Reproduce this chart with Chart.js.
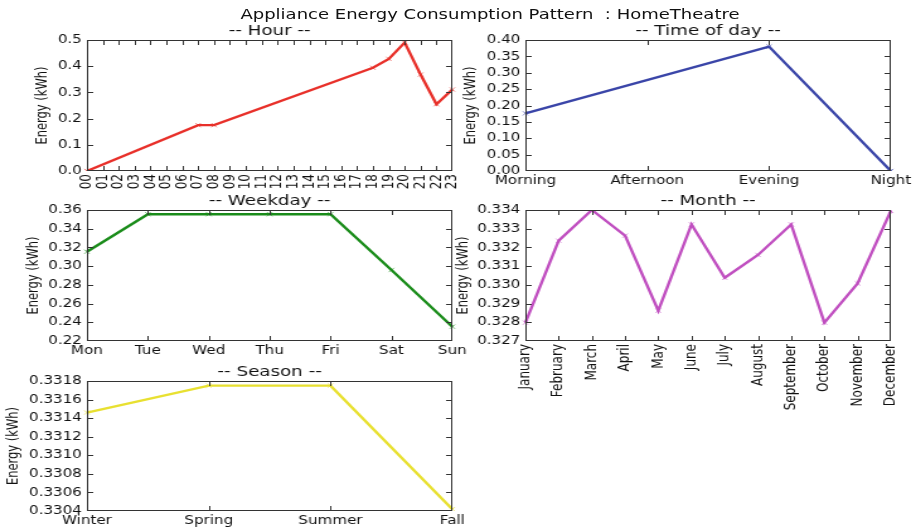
<!DOCTYPE html>
<html>
<head>
<meta charset="utf-8">
<script src="https://cdn.jsdelivr.net/npm/chart.js@4.4.0/dist/chart.umd.min.js"></script>
<style>
  html, body { margin: 0; padding: 0; background: #fff; overflow: hidden; width: 919px; height: 531px; }
  #stage { position: absolute; left: 0; top: 0; height: 531px; transform-origin: 0 0; }
  #stage canvas { position: absolute; }
  #mainTitle { position: absolute; top: 6px; white-space: pre; font: 14.3px 'DejaVu Sans'; line-height: 16px; color: #111; transform: translateX(-50%); }
</style>
</head>
<body>
<div id="stage">
  <div id="mainTitle">Appliance Energy Consumption Pattern  : HomeTheatre</div>
</div>
<script>
// ---- data ----
const hourLabels = ['00','01','02','03','04','05','06','07','08','09','10','11',
                    '12','13','14','15','16','17','18','19','20','21','22','23'];
const hourValues = [0.0, null, null, null, null, null, null, 0.175, 0.175, null, null, null,
                    null, null, null, null, null, null, 0.394, 0.428, 0.490, 0.368, 0.255, 0.311];
const hourYTicks = ['0.0','0.1','0.2','0.3','0.4','0.5'];

const todLabels = ['Morning','Afternoon','Evening','Night'];
const todValues = [0.176, null, 0.380, 0.0];
const todYTicks = ['0.00','0.05','0.10','0.15','0.20','0.25','0.30','0.35','0.40'];

const weekdayLabels = ['Mon','Tue','Wed','Thu','Fri','Sat','Sun'];
const weekdayValues = [0.3154, 0.3555, 0.3555, 0.3555, 0.3555, 0.2959, 0.2353];
const weekdayYTicks = ['0.22','0.24','0.26','0.28','0.30','0.32','0.34','0.36'];

const monthLabels = ['January','February','March','April','May','June','July',
                     'August','September','October','November','December'];
const monthValues = [0.32798, 0.33236, 0.33400, 0.33263, 0.32862, 0.33323, 0.33038,
                     0.33160, 0.33323, 0.32798, 0.33008, 0.33395];
const monthYTicks = ['0.327','0.328','0.329','0.330','0.331','0.332','0.333','0.334'];

const seasonLabels = ['Winter','Spring','Summer','Fall'];
const seasonValues = [0.33146, 0.33175, 0.33175, 0.33042];
const seasonYTicks = ['0.3304','0.3306','0.3308','0.3310','0.3312','0.3314','0.3316','0.3318'];

// ---- layout ----
const SX = 1.26;                 // horizontal stretch of the whole figure
const W = 919, H = 531;
const stage = document.getElementById('stage');
stage.style.width = (W / SX) + 'px';
stage.style.transform = 'scaleX(' + SX + ')';
const mainTitle = document.getElementById('mainTitle');
mainTitle.style.left = (490 / SX) + 'px';

const FONT = 'DejaVu Sans';
const TEXT = '#111';
const AXIS = '#333';
const TITLE_BOX = 30;

// frame around the plot area with inward tick marks on all four sides
const framePlugin = {
  id: 'frame',
  afterDraw(chart) {
    const { ctx, chartArea: a, scales: { x, y } } = chart;
    ctx.save();
    ctx.fillStyle = AXIS;
    const L = Math.round(a.left), R = Math.round(a.right) - 1;
    const T = Math.round(a.top), B = Math.round(a.bottom) - 1;
    ctx.fillRect(L, T, R - L + 1, 1);
    ctx.fillRect(L, B, R - L + 1, 1);
    ctx.fillRect(L, T, 1, B - T + 1);
    ctx.fillRect(R, T, 1, B - T + 1);
    x.ticks.forEach((t, i) => {
      const p = Math.round(x.getPixelForTick(i));
      const q = Math.min(Math.max(p, L), R);
      ctx.fillRect(q, B - 4, 1, 4);
      ctx.fillRect(q, T + 1, 1, 4);
    });
    y.ticks.forEach((t, i) => {
      const p = Math.min(Math.max(Math.round(y.getPixelForTick(i)), T), B);
      ctx.fillRect(L + 1, p, 4, 1);
      ctx.fillRect(R - 4, p, 4, 1);
    });
    ctx.restore();
  }
};

function makePanel(cfg) {
  const plotL = cfg.plot[0] / SX, plotR = cfg.plot[1] / SX;
  const plotT = cfg.plot[2], plotB = cfg.plot[3];
  const axisW = cfg.axisW, padR = cfg.padR;
  const left = plotL - axisW;
  const width = Math.round(plotR - plotL) + axisW + padR;
  const height = Math.round(plotB - plotT) + TITLE_BOX + cfg.xH;
  const canvas = document.createElement('canvas');
  canvas.width = width; canvas.height = height;
  canvas.style.left = left + 'px';
  canvas.style.top = (plotT - TITLE_BOX) + 'px';
  canvas.style.width = width + 'px';
  canvas.style.height = height + 'px';
  stage.appendChild(canvas);

  const yFont = 11.5, yLH = yFont * 1.2;
  const yTitlePad = cfg.ylabelX / SX - left - yLH / 2;
  const yTicks = cfg.yTicks;

  new Chart(canvas, {
    type: 'line',
    data: {
      labels: cfg.labels,
      datasets: [{
        data: cfg.values,
        borderColor: cfg.color,
        borderWidth: 2.4,
        tension: 0,
        fill: false,
        spanGaps: true,
        pointStyle: 'crossRot',
        pointRadius: 3,
        pointBorderWidth: 1,
        pointBorderColor: cfg.marker,
        pointBackgroundColor: cfg.marker
      }]
    },
    options: {
      responsive: false,
      animation: false,
      devicePixelRatio: 1,
      layout: { padding: { left: 0, right: padR, top: 0, bottom: 0 } },
      plugins: {
        legend: { display: false },
        tooltip: { enabled: false },
        title: {
          display: true,
          text: cfg.title,
          fullSize: false,
          color: TEXT,
          font: { family: FONT, size: 14.5, weight: 'normal', lineHeight: 1.2 },
          padding: { top: TITLE_BOX - 17.4 - 0.4, bottom: 0.4 }
        }
      },
      scales: {
        x: {
          type: 'category',
          offset: false,
          grid: { display: false, drawTicks: false },
          border: { display: false },
          ticks: {
            autoSkip: false,
            color: TEXT,
            padding: 3,
            minRotation: cfg.rot, maxRotation: cfg.rot,
            font: { family: FONT, size: cfg.xFont || 12 }
          },
          afterFit: s => { s.height = cfg.xH; }
        },
        y: {
          min: parseFloat(yTicks[0]),
          max: parseFloat(yTicks[yTicks.length - 1]),
          grid: { display: false, drawTicks: false },
          border: { display: false },
          afterBuildTicks: s => { s.ticks = yTicks.map(v => ({ value: parseFloat(v) })); },
          ticks: {
            autoSkip: false,
            color: TEXT,
            padding: 4,
            font: { family: FONT, size: 12 },
            callback: (v, i) => yTicks[i]
          },
          title: {
            display: true,
            text: 'Energy (kWh)',
            color: TEXT,
            font: { family: FONT, size: yFont, lineHeight: 1.2 },
            padding: { top: yTitlePad, bottom: 0 }
          },
          afterFit: s => { s.width = axisW; }
        }
      }
    },
    plugins: [framePlugin]
  });
}

makePanel({ title: '-- Hour --', labels: hourLabels, values: hourValues, yTicks: hourYTicks,
  color: '#e8302a', marker: 'rgba(232,48,42,0.6)',
  plot: [87, 452, 40, 171], axisW: 75, padR: 24, xH: 30, rot: 90, ylabelX: 43 });

makePanel({ title: '-- Time of day --', labels: todLabels, values: todValues, yTicks: todYTicks,
  color: '#3a45a8', marker: 'rgba(58,69,168,0.6)',
  plot: [526, 892, 40, 171], axisW: 60, padR: 21, xH: 30, rot: 0, ylabelX: 471.5 });

makePanel({ title: '-- Weekday --', labels: weekdayLabels, values: weekdayValues, yTicks: weekdayYTicks,
  color: '#1a8c1a', marker: 'rgba(26,140,26,0.6)',
  plot: [87, 452, 210, 341], axisW: 75, padR: 24, xH: 30, rot: 0, ylabelX: 33.7 });

makePanel({ title: '-- Month --', labels: monthLabels, values: monthValues, yTicks: monthYTicks,
  color: '#c04fc0', marker: 'rgba(192,79,192,0.6)',
  plot: [526, 892, 210, 341], axisW: 60, padR: 21, xH: 75, rot: 90, xFont: 12, ylabelX: 464 });

makePanel({ title: '-- Season --', labels: seasonLabels, values: seasonValues, yTicks: seasonYTicks,
  color: '#e8e030', marker: 'rgba(232,224,48,0.6)',
  plot: [87, 452, 381, 511], axisW: 75, padR: 24, xH: 20, rot: 0, ylabelX: 13.7 });
</script>
</body>
</html>
